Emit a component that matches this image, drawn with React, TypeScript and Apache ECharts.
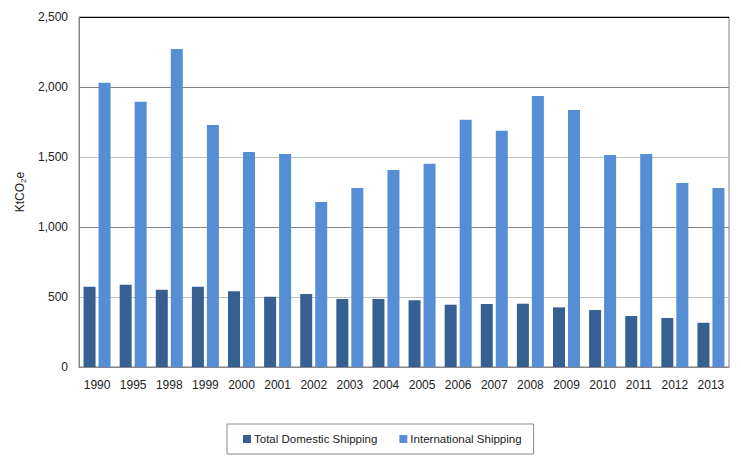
import React, { useEffect, useRef } from "react";
import * as echarts from "echarts";

const years = ["1990","1995","1998","1999","2000","2001","2002","2003","2004","2005","2006","2007","2008","2009","2010","2011","2012","2013"];
const domestic = [574, 588, 552, 574, 541, 502, 521, 486, 486, 476, 445, 450, 452, 426, 407, 364, 350, 316];
const international = [2030, 1895, 2271, 1729, 1536, 1521, 1179, 1279, 1407, 1452, 1766, 1688, 1936, 1836, 1514, 1521, 1314, 1279];
const seriesNames = ["Total Domestic Shipping", "International Shipping"];

const FONT = "'Liberation Sans', Arial, sans-serif";

export default function App() {
  const ref = useRef<HTMLDivElement>(null);
  useEffect(() => {
    if (!ref.current) return;
    const chart = echarts.init(ref.current, null, { renderer: "svg" });
    chart.setOption({
      animation: false,
      backgroundColor: "#ffffff",
      textStyle: { fontFamily: FONT },
      grid: {
        left: 79, right: 12, top: 17, bottom: 96,
        show: true, borderColor: "#808080", borderWidth: 1, backgroundColor: "transparent",
      },
      legend: {
        data: seriesNames,
        left: 227, top: 424,
        padding: [9, 12, 9, 16],
        borderColor: "#8a8a8a", borderWidth: 1,
        itemWidth: 8, itemHeight: 8, itemGap: 22,
        icon: "rect",
        textStyle: { fontFamily: FONT, fontSize: 11.5, color: "#222", padding: [0, 0, 0, -2] },
      },
      xAxis: {
        type: "category",
        data: years,
        axisLine: { lineStyle: { color: "#868686" } },
        axisTick: { show: false },
        axisLabel: { fontFamily: FONT, fontSize: 12, color: "#222", margin: 12 },
      },
      yAxis: {
        type: "value",
        min: 0, max: 2500, interval: 500,
        name: "KtCO{sub|2}e",
        nameLocation: "middle",
        nameGap: 46,
        nameRotate: 90,
        nameTextStyle: {
          fontFamily: FONT, fontSize: 12, color: "#222",
          rich: { sub: { fontFamily: FONT, fontSize: 8, color: "#222", verticalAlign: "bottom", padding: [6, 0, 0, 0] } },
        },
        axisLine: { show: true, lineStyle: { color: "#868686" } },
        axisTick: { show: false },
        axisLabel: {
          fontFamily: FONT, fontSize: 12, color: "#222", margin: 11,
          formatter: (v: number) => v.toLocaleString("en-US"),
        },
        splitLine: {
          show: true,
          lineStyle: { color: ["#868686", "#c0c0c0", "#868686", "#c0c0c0", "#868686", "#000000"], width: 1 },
        },
      },
      series: [
        {
          name: seriesNames[0], type: "bar", data: domestic,
          barWidth: 12, barGap: "25%",
          itemStyle: { color: "#376092" },
        },
        {
          name: seriesNames[1], type: "bar", data: international,
          barWidth: 12, barGap: "25%",
          itemStyle: { color: "#558ED5" },
        },
      ],
    });
    return () => chart.dispose();
  }, []);
  return <div ref={ref} style={{ position: "fixed", left: 0, top: 0, width: 741, height: 463 }} />;
}
